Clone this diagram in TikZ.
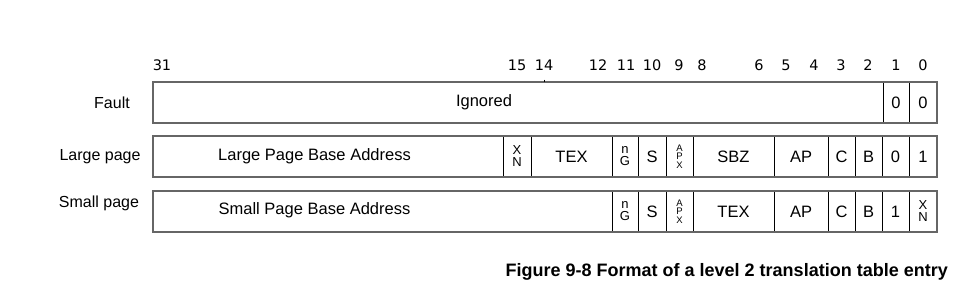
\documentclass[tikz,border=0pt]{standalone}
\usepackage{fontspec}
\setmainfont{Liberation Sans}
\newfontfamily\numfont{DejaVu Sans}
\begin{document}
\begin{tikzpicture}[x=1pt,y=-1pt,
  cellbox/.style={draw=black,line width=0.8pt,inner sep=0pt,outer sep=0pt,anchor=center},
  frame/.style={draw=black!60,line width=1.6pt},
  fieldtxt/.style={font=\fontsize{16.5}{18}\selectfont,inner sep=0pt},
  stacktxt/.style={font=\fontsize{13}{12}\selectfont,align=center,inner sep=0pt},
  tinytxt/.style={font=\fontsize{9.5}{8.5}\selectfont,align=center,inner sep=0pt},
  bitnum/.style={font=\numfont\fontsize{14.5}{16}\selectfont,inner sep=0pt,anchor=base},
  rowlabel/.style={font=\fontsize{16}{18}\selectfont,inner sep=0pt},
  captxt/.style={font=\bfseries\fontsize{18}{20}\selectfont,inner sep=0pt}]
\useasboundingbox (0,0) rectangle (960,300);
\newcommand\fcell[7][fieldtxt]{%
  \node[cellbox,#1,minimum width={(#4-#3)*1pt},minimum height={(#6-#5)*1pt}] (#2) at ({(#3+#4)/2},{(#5+#6)/2}) {#7};}
% bit numbers
\foreach \b/\x in {31/162,15/517,14/544,12/598,11/626,10/652,9/679,8/702,6/759,5/786,4/814,3/841,2/868,1/896,0/923}
  \node[bitnum] (bit\b) at (\x,70.5) {\b};
% Fault row
\fcell{fign}{153}{883}{82}{123}{}
\fcell{fb1}{883}{909}{82}{123}{0}
\fcell{fb0}{909}{937}{82}{123}{0}
\node[fieldtxt] (ignored) at (484,102) {Ignored};
\draw[frame] (153,82) rectangle (937,123);
\coordinate (tickb) at (544,82);
\coordinate (ticka) at (544,79.5);
\draw[line width=0.6pt] (ticka) -- (tickb);
% Large page row
\fcell{laddr}{153}{503}{136}{177}{}
\fcell[stacktxt]{lxn}{503}{531}{136}{177}{X\\N}
\fcell{ltex}{531}{612}{136}{177}{TEX}
\fcell[stacktxt]{lng}{612}{638}{136}{177}{n\\G}
\fcell{ls}{638}{666}{136}{177}{S}
\fcell[tinytxt]{lapx}{666}{693}{136}{177}{A\\P\\X}
\fcell{lsbz}{693}{774}{136}{177}{SBZ}
\fcell{lap}{774}{828}{136}{177}{AP}
\fcell{lc}{828}{855}{136}{177}{C}
\fcell{lb}{855}{882}{136}{177}{B}
\fcell{lb1}{882}{909}{136}{177}{0}
\fcell{lb0}{909}{937}{136}{177}{1}
\node[fieldtxt] (laddrtxt) at (314.5,156) {Large Page Base Address};
\draw[frame] (153,136) rectangle (937,177);
% Small page row
\fcell{saddr}{153}{612}{191}{232}{}
\fcell[stacktxt]{sng}{612}{638}{191}{232}{n\\G}
\fcell{ss}{638}{666}{191}{232}{S}
\fcell[tinytxt]{sapx}{666}{693}{191}{232}{A\\P\\X}
\fcell{stex}{693}{774}{191}{232}{TEX}
\fcell{sap}{774}{828}{191}{232}{AP}
\fcell{sc}{828}{855}{191}{232}{C}
\fcell{sb}{855}{882}{191}{232}{B}
\fcell{sb1}{882}{909}{191}{232}{1}
\fcell[stacktxt]{sxn}{909}{937}{191}{232}{X\\N}
\node[fieldtxt] (saddrtxt) at (314.5,210) {Small Page Base Address};
\draw[frame] (153,191) rectangle (937,232);
% row labels
\node[rowlabel] (lfault) at (112,103) {Fault};
\node[rowlabel] (llarge) at (100,157) {Large page};
\node[rowlabel] (lsmall) at (99,203) {Small page};
% caption
\node[captxt,anchor=east] (caption) at (948,272) {Figure 9-8 Format of a level 2 translation table entry};
\end{tikzpicture}
\end{document}
